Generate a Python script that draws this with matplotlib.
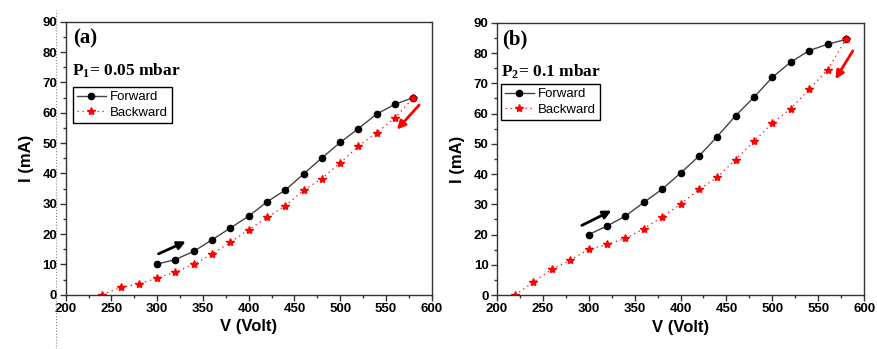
import matplotlib.pyplot as plt
from matplotlib.lines import Line2D
from matplotlib.ticker import MultipleLocator

# Panel (a): P1 = 0.05 mbar
va_fwd = [300, 320, 340, 360, 380, 400, 420, 440, 460, 480, 500, 520, 540, 560, 580]
ia_fwd = [10.1, 11.6, 14.3, 18.1, 22.0, 25.9, 30.6, 34.5, 39.8, 45.1, 50.2, 54.8, 59.6, 62.8, 65.0]
va_bwd = [240, 260, 280, 300, 320, 340, 360, 380, 400, 420, 440, 460, 480, 500, 520, 540, 560, 580]
ia_bwd = [0.0, 2.4, 3.5, 5.5, 7.5, 10.0, 13.4, 17.3, 21.4, 25.5, 29.3, 34.4, 38.3, 43.5, 49.0, 53.4, 58.3, 65.0]

# Panel (b): P2 = 0.1 mbar
vb_fwd = [300, 320, 340, 360, 380, 400, 420, 440, 460, 480, 500, 520, 540, 560, 580]
ib_fwd = [20.0, 22.8, 26.1, 30.6, 35.0, 40.3, 45.9, 52.4, 59.3, 65.4, 72.0, 77.0, 80.8, 82.9, 84.5]
vb_bwd = [220, 240, 260, 280, 300, 320, 340, 360, 380, 400, 420, 440, 460, 480, 500, 520, 540, 560, 580]
ib_bwd = [0.0, 4.3, 8.5, 11.5, 15.1, 16.7, 18.7, 21.9, 25.8, 30.0, 34.9, 38.9, 44.8, 50.8, 56.9, 61.6, 68.0, 74.5, 84.5]

panels = [
    dict(rect=[0.0749, 0.1556, 0.4173, 0.782], vf=va_fwd, jf=ia_fwd, vb=va_bwd, jb=ia_bwd,
         tag='(a)', label=r'$\mathbf{P_1}$= 0.05 mbar', leg=(0.02, 0.76), tx=0.02,
         black=((298.7, 13.1), (334, 17.9)), red=((588.3, 63.2), (560, 53.8))),
    dict(rect=[0.5664, 0.1547, 0.4191, 0.780], vf=vb_fwd, jf=ib_fwd, vb=vb_bwd, jb=ib_bwd,
         tag='(b)', label=r'$\mathbf{P_2}$= 0.1 mbar', leg=(0.011, 0.775), tx=0.016,
         black=((289.9, 22.6), (327.5, 28.3)), red=((589.1, 81.5), (567, 70.6))),
]

fig = plt.figure(figsize=(8.77, 3.49), dpi=100)
plt.rcParams['mathtext.fontset'] = 'custom'
plt.rcParams['mathtext.bf'] = 'Liberation Serif:bold'
plt.rcParams['mathtext.rm'] = 'Liberation Serif'

for p in panels:
    ax = fig.add_axes(p['rect'])
    ax.plot(p['vb'], p['jb'], ls=(0, (1, 3)), color='red', lw=0.9, marker='*', ms=6,
            mec='red', mfc='red', label='Backward', zorder=2)
    ax.plot(p['vf'], p['jf'], ls='-', color='#444444', lw=1, marker='o', ms=4.5,
            mec='black', mfc='black', label='Forward', zorder=3)
    ax.plot(p['vb'][-1:], p['jb'][-1:], ls='none', marker='*', ms=6, color='red', zorder=4)

    ax.set_xlim(200, 600)
    ax.set_ylim(0, 90)
    ax.xaxis.set_major_locator(MultipleLocator(50))
    ax.xaxis.set_minor_locator(MultipleLocator(25))
    ax.yaxis.set_major_locator(MultipleLocator(10))
    ax.yaxis.set_minor_locator(MultipleLocator(5))
    ax.tick_params(which='both', direction='out', top=False, right=False, color='#333333')
    ax.tick_params(which='major', length=4, width=1, labelsize=9.5, pad=2)
    ax.tick_params(which='minor', length=2.5, width=1)
    for lab in ax.get_xticklabels() + ax.get_yticklabels():
        lab.set_fontfamily('Liberation Sans')
        lab.set_fontweight('bold')
    for s in ax.spines.values():
        s.set_color('#333333')
        s.set_linewidth(1)

    ax.set_xlabel('V (Volt)', fontfamily='Liberation Sans', fontweight='bold', fontsize=12, labelpad=3)
    ax.set_ylabel('I (mA)', fontfamily='Liberation Sans', fontweight='bold', fontsize=12, labelpad=6)

    ax.text(p['tx'], 0.975, p['tag'], transform=ax.transAxes, va='top', ha='left',
            fontfamily='Liberation Serif', fontweight='bold', fontsize=15)
    ax.text(p['tx'] - 0.004, 0.855, p['label'], transform=ax.transAxes, va='top', ha='left',
            fontfamily='Liberation Serif', fontweight='bold', fontsize=12.5)

    h, l = ax.get_legend_handles_labels()
    leg = ax.legend([h[1], h[0]], [l[1], l[0]], loc='upper left', bbox_to_anchor=p['leg'],
                    borderaxespad=0, fancybox=False, framealpha=1, edgecolor='black',
                    prop={'family': 'Liberation Sans', 'size': 9.5}, handlelength=2.2,
                    handletextpad=0.3, borderpad=0.3, labelspacing=0.25)
    leg.get_frame().set_linewidth(1)

    (x0, y0), (x1, y1) = p['black']
    ax.annotate('', xy=(x1, y1), xytext=(x0, y0),
                arrowprops=dict(arrowstyle='-|>', color='black', lw=2, mutation_scale=12))
    (x0, y0), (x1, y1) = p['red']
    ax.annotate('', xy=(x1, y1), xytext=(x0, y0),
                arrowprops=dict(arrowstyle='-|>', color='red', lw=2, mutation_scale=12))

# faint dotted border line at the left of panel (a)
fig.add_artist(Line2D([0.064, 0.064], [0.0, 0.97], transform=fig.transFigure,
                      color='#888888', lw=0.8, ls=':'))

fig.savefig('out.png', dpi=100)
